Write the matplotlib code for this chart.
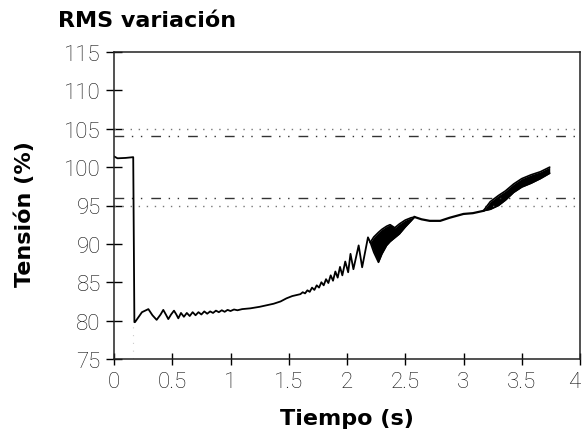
import matplotlib
matplotlib.use("Agg")
import matplotlib.pyplot as plt
import numpy as np

# main trace: flat, drop, oscillations up to the first wide band
t_main = [0.0, 0.03, 0.10, 0.165, 0.175, 0.18, 0.24, 0.295, 0.33, 0.366, 0.40, 0.423, 0.445,
          0.466, 0.49, 0.515, 0.535, 0.552, 0.575, 0.60, 0.625, 0.65, 0.675, 0.70, 0.725,
          0.75, 0.775, 0.80, 0.825, 0.85, 0.875, 0.90, 0.925, 0.95, 0.975, 1.0, 1.03, 1.06,
          1.10, 1.17, 1.25, 1.37, 1.43, 1.48, 1.53, 1.60, 1.62, 1.64, 1.66, 1.68, 1.70,
          1.72, 1.74, 1.76, 1.78, 1.80, 1.82, 1.84, 1.86, 1.88, 1.90, 1.92, 1.94, 1.96,
          1.985, 2.01, 2.03, 2.055, 2.10, 2.13, 2.18, 2.20]
v_main = [101.4, 101.15, 101.2, 101.3, 79.8, 79.8, 81.1, 81.5, 80.7, 80.1, 80.8, 81.4, 80.8,
          80.2, 80.8, 81.3, 80.8, 80.3, 81.0, 80.5, 81.0, 80.6, 81.1, 80.7, 81.1,
          80.8, 81.2, 80.9, 81.2, 81.0, 81.3, 81.1, 81.35, 81.15, 81.4, 81.25, 81.45, 81.35,
          81.5, 81.6, 81.8, 82.2, 82.5, 82.9, 83.2, 83.45, 83.7, 83.55, 83.95, 83.75, 84.3,
          84.0, 84.6, 84.3, 85.0, 84.6, 85.4, 84.9, 85.9, 85.2, 86.4, 85.6, 87.0, 85.9,
          87.7, 86.3, 88.7, 86.7, 89.8, 86.95, 90.85, 90.2]

# first wide band
t_band1 = [2.20, 2.23, 2.27, 2.30, 2.34, 2.37, 2.41, 2.45, 2.50, 2.55, 2.58]
up_band1 = [90.2, 90.9, 91.5, 91.9, 92.3, 92.5, 92.1, 92.6, 93.1, 93.4, 93.5]
lo_band1 = [90.2, 88.9, 87.6, 88.7, 89.8, 90.3, 90.8, 91.3, 92.2, 93.0, 93.5]

# thin part between bands
t_mid = [2.58, 2.64, 2.71, 2.80, 2.88, 3.00, 3.08, 3.17]
v_mid = [93.5, 93.2, 93.0, 93.0, 93.4, 93.9, 94.0, 94.3]

# second wide band
t_band2 = [3.17, 3.23, 3.30, 3.36, 3.43, 3.50, 3.58, 3.66, 3.74]
up_band2 = [94.3, 95.5, 96.3, 96.9, 97.8, 98.5, 99.0, 99.4, 100.0]
lo_band2 = [94.3, 94.5, 95.0, 95.7, 96.7, 97.4, 97.9, 98.5, 99.2]

dotted_levels = [105, 95]
dashdot_levels = [104, 96]
drop_t = 0.165

x_ticks = [0, 0.5, 1, 1.5, 2, 2.5, 3, 3.5, 4]
x_labels = ["0", "0.5", "1", "1.5", "2", "2.5", "3", "3.5", "4"]
y_ticks = [75, 80, 85, 90, 95, 100, 105, 110, 115]

fig = plt.figure(figsize=(5.84, 4.35), dpi=100)
ax = fig.add_axes([114 / 584, 1 - 360 / 435, 466 / 584, 307 / 435])

for lv in dotted_levels:
    ax.axhline(lv, color="#777777", lw=1.0, linestyle=(0, (1, 4.8)))
for lv in dashdot_levels:
    ax.axhline(lv, color="#333333", lw=1.0, linestyle=(0, (7, 5.5, 1, 5.5, 1, 6.5)))

ax.plot([drop_t, drop_t], [75, 79.8], color="#cccccc", lw=0.8, linestyle=(0, (1, 6)))

ax.plot(t_main, v_main, color="black", lw=1.3, solid_joinstyle="round")
ax.fill_between(t_band1, lo_band1, up_band1, color="black", lw=0)
ax.plot(t_band1, up_band1, color="black", lw=1.2)
ax.plot(t_band1, lo_band1, color="black", lw=1.2)
ax.plot(t_mid, v_mid, color="black", lw=1.6)
ax.fill_between(t_band2, lo_band2, up_band2, color="black", lw=0)
ax.plot(t_band2, up_band2, color="black", lw=1.2, solid_capstyle="round")
ax.plot(t_band2, lo_band2, color="black", lw=1.2, solid_capstyle="round")

ax.set_xlim(0, 4)
ax.set_ylim(75, 115)
ax.set_xticks(x_ticks)
ax.set_xticklabels(x_labels)
ax.set_yticks(y_ticks)

for s in ax.spines.values():
    s.set_linewidth(1.1)
    s.set_color("#222222")

ax.tick_params(axis="y", direction="inout", length=11, width=1.0, pad=4)
ax.tick_params(axis="x", direction="inout", length=8, width=1.0, pad=5)
for lab in ax.get_xticklabels() + ax.get_yticklabels():
    lab.set_fontsize(16)
    lab.set_family(["Roboto", "DejaVu Sans"])
    lab.set_fontweight("light")
    lab.set_color("#111111")
ax.get_xticklabels()[-1].set_horizontalalignment("right")

fig.text(58 / 584, 1 - 27 / 435, "RMS variación", fontsize=16, fontweight="bold",
         family="DejaVu Sans", ha="left", va="baseline")
fig.text(347 / 584, 1 - 425 / 435, "Tiempo (s)", fontsize=16, fontweight="bold",
         family="DejaVu Sans", ha="center", va="baseline")
fig.text(25 / 584, 1 - 214 / 435, "Tensión (%)", fontsize=16, fontweight="bold",
         family="DejaVu Sans", ha="center", va="center", rotation=90)

fig.savefig("out.png", dpi=100)
